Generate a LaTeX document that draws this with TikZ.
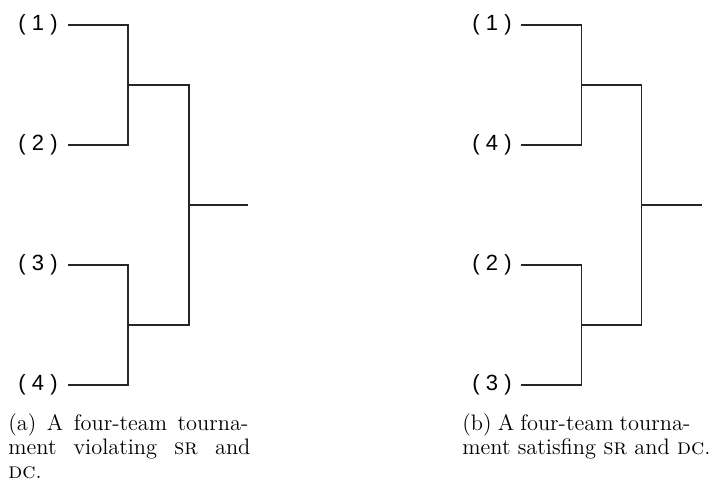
\documentclass[tikz,border=0pt]{standalone}
\usepackage{fontspec}
\newfontfamily\labfont{Liberation Sans}
\begin{document}
\begin{tikzpicture}[x=0.5pt,y=-0.5pt,
  team/.style={font=\labfont\fontsize{11pt}{13pt}\selectfont, inner sep=0pt, anchor=east},
  bracket/.style={line width=0.55pt, draw=black!85},
  capt/.style={inner sep=0pt, anchor=base west, font=\fontsize{11.2pt}{12pt}\selectfont}]
\useasboundingbox (0,0) rectangle (713,482);
% ---- left bracket (a)
\node[team] (a1) at (58,25) {( 1 )};
\node[team] (a2) at (58,145) {( 2 )};
\node[team] (a3) at (58,265) {( 3 )};
\node[team] (a4) at (58,385) {( 4 )};
\coordinate (aj12) at (128,85);
\coordinate (aj34) at (128,325);
\coordinate (afin) at (189,205);
\coordinate (aend) at (248,205);
\draw[bracket] ([xshift=5pt]a1.east) -| (aj12);
\draw[bracket] ([xshift=5pt]a2.east) -| (aj12);
\draw[bracket] ([xshift=5pt]a3.east) -| (aj34);
\draw[bracket] ([xshift=5pt]a4.east) -| (aj34);
\draw[bracket] (aj12) -| (afin);
\draw[bracket] (aj34) -| (afin);
\draw[bracket] (afin) -- (aend);
\node[capt] (acap) at (8,430) {\begin{minipage}[t]{140pt}\hbox to 120pt{(a) A four-team tourna-}\hbox to 121pt{ment violating \textsc{sr} and}\hbox{\textsc{dc}.}\end{minipage}};
% ---- right bracket (b)
\node[team] (b1) at (512,25) {( 1 )};
\node[team] (b2) at (512,145) {( 4 )};
\node[team] (b3) at (512,265) {( 2 )};
\node[team] (b4) at (512,385) {( 3 )};
\coordinate (bj12) at (581.5,85);
\coordinate (bj34) at (581.5,325);
\coordinate (bfin) at (641.5,205);
\coordinate (bend) at (702,205);
\draw[bracket] ([xshift=4.5pt]b1.east) -| (bj12);
\draw[bracket] ([xshift=4.5pt]b2.east) -| (bj12);
\draw[bracket] ([xshift=4.5pt]b3.east) -| (bj34);
\draw[bracket] ([xshift=4.5pt]b4.east) -| (bj34);
\draw[bracket] (bj12) -| (bfin);
\draw[bracket] (bj34) -| (bfin);
\draw[bracket] (bfin) -- (bend);
\node[capt] (bcap) at (462,430) {\begin{minipage}[t]{140pt}\hbox to 114pt{(b) A four-team tourna-}\hbox{ment satisfing \textsc{sr} and \textsc{dc}.}\end{minipage}};
\end{tikzpicture}
\end{document}
